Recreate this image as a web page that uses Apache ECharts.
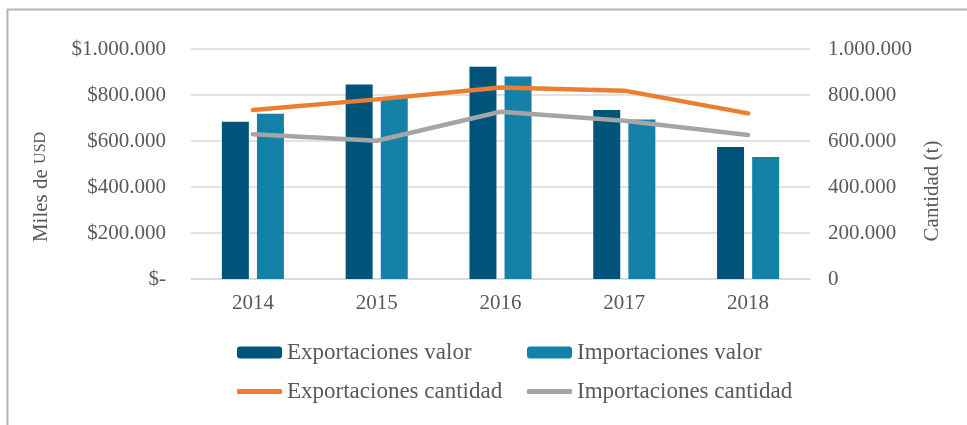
<!DOCTYPE html>
<html>
<head>
<meta charset="utf-8">
<script src="https://cdn.jsdelivr.net/npm/echarts@6/dist/echarts.min.js"></script>
<style>html,body{margin:0;padding:0;background:#fff}#c{width:967px;height:425px}</style>
</head>
<body>
<div id="c"></div>
<script>
const categories = ['2014', '2015', '2016', '2017', '2018'];
const exportValor = [684000, 846000, 923000, 735000, 574000];
const importValor = [719000, 790000, 880000, 694000, 530000];
const exportCantidad = [735000, 781000, 833000, 819000, 720000];
const importCantidad = [629000, 601000, 727000, 688000, 626000];
const seriesNames = ['Exportaciones valor', 'Importaciones valor', 'Exportaciones cantidad', 'Importaciones cantidad'];

const FONT = '"Liberation Serif", serif';
const TXT = '#595959';
function fmt(v) { return String(v).replace(/\B(?=(\d{3})+(?!\d))/g, '.'); }

const chart = echarts.init(document.getElementById('c'));
const legendBase = {
  orient: 'horizontal', itemGap: 5, padding: 0,
  textStyle: { fontFamily: FONT, fontSize: 23, color: TXT, padding: [0,0,0,0] },
  itemWidth: 45
};
chart.setOption({
  animation: false,
  grid: { left: 191, right: 157, top: 49, bottom: 146, containLabel: false },
  xAxis: {
    type: 'category', data: categories,
    axisLine: { show: true, lineStyle: { color: '#d9d9d9', width: 1.5 } },
    axisTick: { show: false },
    axisLabel: { fontFamily: FONT, fontSize: 21, color: TXT, margin: 14 }
  },
  yAxis: [
    {
      type: 'value', min: 0, max: 1000000, interval: 200000,
      axisLine: { show: false }, axisTick: { show: false },
      splitLine: { lineStyle: { color: '#d9d9d9', width: 1.5 } },
      axisLabel: { fontFamily: FONT, fontSize: 21, color: TXT, margin: 25,
        formatter: v => v === 0 ? '$-' : '$' + fmt(v) }
    },
    {
      type: 'value', min: 0, max: 1000000, interval: 200000,
      axisLine: { show: false }, axisTick: { show: false },
      splitLine: { show: false },
      axisLabel: { fontFamily: FONT, fontSize: 21, color: TXT, margin: 18,
        formatter: v => fmt(v) }
    }
  ],
  legend: [
    Object.assign({}, legendBase, { left: 237, top: 341, data: [seriesNames[0]], itemHeight: 12 }),
    Object.assign({}, legendBase, { left: 527, top: 341, data: [seriesNames[1]], itemHeight: 12 }),
    Object.assign({}, legendBase, { left: 237, top: 380, data: [{ name: seriesNames[2], icon: 'roundRect' }], itemHeight: 5 }),
    Object.assign({}, legendBase, { left: 527, top: 380, data: [{ name: seriesNames[3], icon: 'roundRect' }], itemHeight: 5 })
  ],
  series: [
    { name: seriesNames[0], type: 'bar', data: exportValor, barWidth: 27, barGap: '30%',
      itemStyle: { color: '#00547A' } },
    { name: seriesNames[1], type: 'bar', data: importValor, barWidth: 27, barGap: '30%',
      itemStyle: { color: '#1482A8' } },
    { name: seriesNames[2], type: 'line', yAxisIndex: 1, data: exportCantidad, symbol: 'none',
      lineStyle: { color: '#ED7D31', width: 4.5, cap: 'round' }, itemStyle: { color: '#ED7D31' } },
    { name: seriesNames[3], type: 'line', yAxisIndex: 1, data: importCantidad, symbol: 'none',
      lineStyle: { color: '#A5A5A5', width: 4.5, cap: 'round' }, itemStyle: { color: '#A5A5A5' } }
  ],
  graphic: [
    { type: 'rect', shape: { x: 7.5, y: 9.5, width: 1000, height: 500 }, silent: true,
      style: { fill: 'none', stroke: '#b3b3b3', lineWidth: 2 } },
    { type: 'text', x: 41, y: 187, rotation: Math.PI / 2, silent: true,
      style: { text: '{a|Miles de }{b|USD}', align: 'center', verticalAlign: 'middle',
        rich: { a: { fontFamily: FONT, fontSize: 21, fill: TXT, color: TXT },
                b: { fontFamily: FONT, fontSize: 16, fill: TXT, color: TXT } } } },
    { type: 'text', x: 932, y: 191, rotation: Math.PI / 2, silent: true,
      style: { text: 'Cantidad (t)', align: 'center', verticalAlign: 'middle',
        fontFamily: FONT, fontSize: 21, fill: TXT } }
  ]
});
</script>
</body>
</html>
